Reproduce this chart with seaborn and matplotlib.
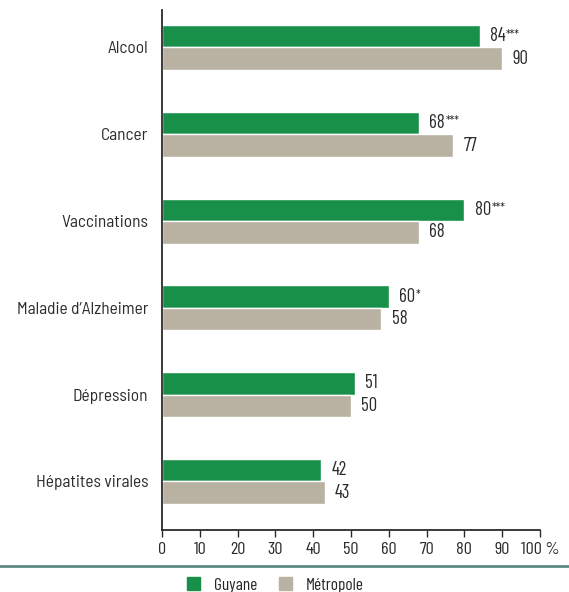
import matplotlib
matplotlib.use("Agg")
import matplotlib.pyplot as plt
import matplotlib.lines as mlines
import matplotlib.patches as mpatches
import seaborn as sns
import pandas as pd
from matplotlib import font_manager

categories = ["Alcool", "Cancer", "Vaccinations", "Maladie d’Alzheimer",
              "Dépression", "Hépatites virales"]
guyane = [84, 68, 80, 60, 51, 42]
metropole = [90, 77, 68, 58, 50, 43]
guyane_sig = ["***", "***", "***", "*", "", ""]
series = ["Guyane", "Métropole"]
xticks = [0, 10, 20, 30, 40, 50, 60, 70, 80, 90, 100]
xticklabels = ["0", "10", "20", "30", "40", "50", "60", "70", "80", "90", "100 %"]

colors = {"Guyane": "#18904a", "Métropole": "#b9b1a1"}
ink = "#2b2b2b"

sns.set_theme(style="white")
installed = {f.name for f in font_manager.fontManager.ttflist}


def pick(options):
    for name in options:
        if name in installed:
            return name
    return "DejaVu Sans"


narrow = pick(["Barlow Condensed", "Roboto Condensed", "PT Sans Narrow",
               "Archivo Narrow", "Encode Sans Condensed", "Liberation Sans Narrow"])
semi = pick(["Barlow Semi Condensed", "Fira Sans Condensed", "Encode Sans Semi Condensed",
             "Roboto Condensed", "PT Sans Narrow", "Lato"])
plt.rcParams["font.family"] = [semi, "DejaVu Sans"]

df = pd.DataFrame({
    "categorie": categories * 2,
    "serie": [series[0]] * len(categories) + [series[1]] * len(categories),
    "valeur": guyane + metropole,
})

fig = plt.figure(figsize=(5.69, 5.92), dpi=100)
ax = fig.add_axes([162 / 569, 62 / 592, 378 / 569, 520 / 592])

sns.barplot(data=df, y="categorie", x="valeur", hue="serie", orient="h",
            palette=colors, width=0.52, ax=ax, legend=False, saturation=1)

ax.set_xlim(0, 100)
ax.set_ylim(5.559, -0.432)
ax.set_xlabel("")
ax.set_ylabel("")

for s in ["top", "right"]:
    ax.spines[s].set_visible(False)
for s in ["left", "bottom"]:
    ax.spines[s].set_color(ink)
    ax.spines[s].set_linewidth(1.3)

ax.set_xticks(xticks)
ax.set_xticklabels(xticklabels, fontfamily=narrow, fontsize=13, color=ink)
ax.tick_params(axis="x", bottom=True, length=5, width=1, color=ink, pad=4)
ax.tick_params(axis="y", left=False, length=0, pad=10)
for lbl in ax.get_yticklabels():
    lbl.set_fontsize(12.5)
    lbl.set_fontfamily(semi)
    lbl.set_color(ink)

# Value labels beside each bar, significance stars raised and smaller
for cont, vals, sigs in [(ax.containers[0], guyane, guyane_sig),
                         (ax.containers[1], metropole, [""] * len(metropole))]:
    for bar, v, sg in zip(cont, vals, sigs):
        y = bar.get_y() + bar.get_height() / 2
        t = ax.annotate(str(v), xy=(v, y), xytext=(7.5, 0), textcoords="offset points",
                        va="center", ha="left", fontsize=13.5, fontfamily=narrow,
                        color=ink)
        if sg:
            ax.annotate(sg, xy=(1, 1), xycoords=t, xytext=(0.3, -1.0),
                        textcoords="offset points", va="top", ha="left",
                        fontsize=9.5, fontfamily=narrow, color=ink)

# Separator rule above the legend
fig.add_artist(mlines.Line2D([0, 1], [1 - 566 / 592, 1 - 566 / 592],
                             transform=fig.transFigure, color="#5e8a80", lw=2))

handles = [mpatches.Patch(color=colors[s], label=s) for s in series]
fig.legend(handles=handles, loc="center", bbox_to_anchor=(275 / 569, 1 - 585 / 592),
           ncol=2, frameon=False, handlelength=0.75, handleheight=0.75,
           columnspacing=1.25, handletextpad=0.8,
           prop={"family": narrow, "size": 12.5})

fig.savefig("out.png", dpi=100)
